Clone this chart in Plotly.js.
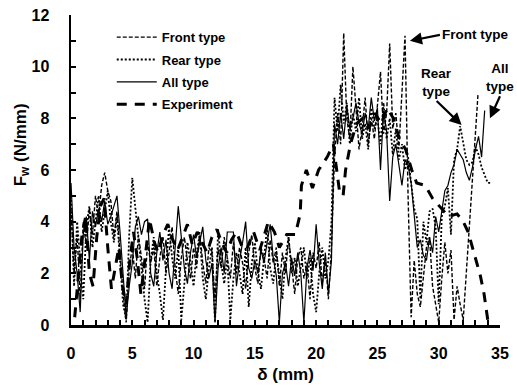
<!DOCTYPE html>
<html>
<head>
<meta charset="utf-8">
<script src="https://cdn.plot.ly/plotly-3.0.1.min.js"></script>
<style>html,body{margin:0;padding:0;background:#fff;}#chart{width:517px;height:392px;}</style>
</head>
<body>
<div id="chart"></div>
<script>
// displacement grid (mm)
const deltaGrid = [0,0.25,0.5,0.75,1,1.25,1.5,1.75,2,2.25,2.5,2.75,3,3.25,3.5,3.75,4,4.25,4.5,4.75,5,5.25,5.5,5.75,6,6.25,6.5,6.75,7,7.25,7.5,7.75,8,8.25,8.5,8.75,9,9.25,9.5,9.75,10,10.25,10.5,10.75,11,11.25,11.5,11.75,12,12.25,12.5,12.75,13,13.25,13.5,13.75,14,14.25,14.5,14.75,15,15.25,15.5,15.75,16,16.25,16.5,16.75,17,17.25,17.5,17.75,18,18.25,18.5,18.75,19,19.25,19.5,19.75,20,20.25,20.5,20.75,21,21.25,21.5,21.75,22,22.25,22.5,22.75,23,23.25,23.5,23.75,24,24.25,24.5,24.75,25,25.25,25.5,25.75,26,26.25,26.5,26.75,27,27.25,27.5,27.75,28,28.25,28.5,28.75,29,29.25,29.5,29.75,30,30.25,30.5,30.75,31,31.25,31.5,31.75,32,32.25,32.5,32.75,33,33.25,33.5,33.75,34,34.25];

// Front type (0 .. 32 mm on grid, then last peak)
const frontTail = [33.2];
const frontF = [4.5,2.0,3.5,1.0,4.0,3.0,4.5,3.5,5.0,4.2,
  5.4,5.9,5.2,4.8,3.4,4.4,2.8,1.2,0.1,2.2,
  3.0,1.8,3.5,2.6,1.4,3.2,2.4,3.0,1.5,2.6,
  3.4,2.0,2.8,3.8,2.2,1.2,2.6,3.4,2.5,1.8,
  3.0,2.2,3.6,2.4,1.6,3.0,2.8,1.0,3.0,2.2,
  3.4,2.6,1.8,3.2,2.0,3.0,2.4,1.4,2.8,3.5,
  2.2,1.6,3.0,2.6,1.8,3.3,2.4,3.0,1.5,2.8,
  2.0,3.4,2.2,1.2,2.6,3.0,1.8,2.4,1.0,2.8,
  2.2,3.2,1.6,2.6,1.0,3.0,6.5,8.2,7.0,11.3,
  8.0,7.2,10.0,8.4,6.8,7.6,8.8,7.0,8.0,7.2,
  8.4,9.8,7.4,8.2,10.9,7.6,8.2,6.8,9.0,11.2,
  5.0,0.3,2.5,1.2,0.7,1.8,3.0,3.4,1.5,0.8,
  0.1,1.8,3.2,2.0,2.9,0.2,1.5,0.8,0.2,
  8.9];

// Rear type (0 .. 34.25 mm)
const rearF = [5.0,1.5,4.0,2.5,1.0,3.8,4.6,3.0,4.0,5.0,
  3.6,4.5,5.2,4.0,3.2,4.2,2.6,0.8,0.2,3.5,
  5.7,4.5,3.2,2.0,1.0,0.1,2.5,3.4,2.0,1.2,
  0.2,2.2,3.8,2.6,1.8,3.0,0.2,1.6,3.2,2.4,
  1.5,2.8,3.5,1.8,1.0,2.2,3.0,0.1,3.7,2.4,
  1.6,2.6,0.2,1.8,2.8,2.0,1.2,3.0,0.7,2.4,
  3.2,2.0,1.4,2.6,3.8,2.2,1.6,2.8,2.0,1.0,
  2.6,3.4,2.0,2.6,1.5,2.2,3.0,1.8,2.6,1.2,
  0.5,2.0,3.0,1.8,2.5,4.0,8.8,7.5,9.3,7.8,
  8.6,7.0,8.2,7.5,8.8,7.2,7.8,6.8,8.4,7.6,
  8.0,7.0,8.6,7.2,8.0,6.6,7.6,6.4,7.0,6.0,
  6.5,5.5,4.5,4.1,1.0,4.0,3.2,4.4,4.5,3.8,
  0.8,4.2,4.6,5.3,3.5,6.4,6.8,7.7,7.0,6.4,
  6.2,6.3,6.9,6.6,6.1,5.8,5.5,5.5];

// All type (0 .. 33.75 mm)
const allF = [5.5,3.0,2.0,0.5,3.5,4.2,2.5,4.4,3.8,4.5,
  4.0,4.8,3.9,4.2,4.6,5.0,3.6,2.0,0.3,1.5,
  2.4,3.8,4.2,3.5,4.0,4.1,2.0,1.5,2.8,3.6,
  2.5,3.3,2.0,1.4,3.0,4.6,3.4,2.2,1.6,2.8,
  3.5,2.6,3.2,3.8,2.5,1.8,2.4,0.1,2.2,3.0,
  2.0,3.6,3.6,3.6,1.5,2.5,3.2,4.0,2.2,1.8,
  2.5,2.0,2.9,2.4,3.2,3.9,2.6,1.9,0.1,2.0,
  2.4,1.5,2.6,1.9,2.8,2.0,0.1,2.2,2.9,2.1,
  3.9,2.4,1.4,2.8,1.2,2.5,7.8,7.0,8.2,7.2,
  8.5,7.6,8.0,8.6,7.8,7.4,8.2,7.6,8.8,7.9,
  8.4,6.0,8.3,7.5,4.8,6.5,7.0,6.2,5.4,6.4,
  6.2,5.5,4.1,3.0,3.3,2.7,2.5,3.4,2.8,4.2,
  3.6,4.5,5.2,5.4,5.9,6.2,6.8,6.6,6.4,5.9,
  5.6,6.1,6.8,7.3,6.5,8.3];

// Experiment
const expDelta = [0.3,0.6,0.9,1.2,1.5,1.8,2.1,2.4,2.7,3.0,3.3,3.6,3.9,4.2,4.5,4.8,5.1,5.4,5.7,6.0,
  6.4,6.8,7.1,7.5,7.9,8.3,8.7,9.1,9.5,9.9,10.3,10.7,11.1,11.5,11.9,12.3,12.7,13.1,13.5,13.9,
  14.3,14.9,15.4,16.1,16.6,17.0,17.6,18.3,18.7,18.8,19.2,19.7,20.2,20.9,21.4,21.9,22.2,22.4,22.8,23.3,
  23.8,24.3,24.8,25.3,25.8,26.3,26.8,27.3,27.8,28.2,28.9,29.5,30.2,30.8,31.5,32.0,32.4,32.8,33.1,33.4,33.7,34.0];
const expF = [0.3,2.0,3.5,4.2,2.0,1.5,3.4,4.6,4.9,3.0,1.4,2.2,3.0,1.5,0.8,2.5,3.6,2.6,1.2,2.4,
  4.1,3.2,2.8,3.5,3.9,3.3,2.9,3.4,3.9,3.1,3.6,3.2,2.8,3.4,3.7,3.2,2.8,3.3,3.6,3.1,
  2.9,3.6,2.9,4.0,3.6,3.0,3.5,3.5,4.3,5.4,6.0,5.3,6.0,6.5,7.0,5.2,5.0,6.0,7.0,7.8,
  8.0,7.6,8.2,7.8,8.4,8.0,7.2,6.8,6.0,5.5,5.4,4.9,4.5,4.2,4.3,4.0,3.6,2.9,2.4,1.9,1.2,0.2];

const seriesNames = ['Front type','Rear type','All type','Experiment'];

// annotation targets (peaks pointed at)
const calloutText = ['Front type', 'Rear<br>type', 'All<br>type'];
const calloutDelta = [27.65, 31.87, 34.18];
const calloutF = [11.0, 7.74, 8.0];

const frontDelta = deltaGrid.slice(0, 129).concat(frontTail);
const rearDelta = deltaGrid.slice(0, rearF.length);
const allDelta = deltaGrid.slice(0, allF.length);

const FONT = 'Liberation Sans, Arial, sans-serif';

const traces = [
  {x: frontDelta, y: frontF, name: seriesNames[0], legendgroup: 'g1', mode: 'lines',
   line: {color: '#000', width: 1.4, dash: '4px,2px'}},
  {x: rearDelta, y: rearF, name: seriesNames[1], legendgroup: 'g2', mode: 'lines',
   line: {color: '#000', width: 1.8, dash: '2px,2px'}},
  {x: allDelta, y: allF, name: seriesNames[2], legendgroup: 'g3', mode: 'lines',
   line: {color: '#000', width: 1.2}},
  {x: expDelta, y: expF, name: seriesNames[3], legendgroup: 'g4', mode: 'lines',
   line: {color: '#000', width: 3, dash: '10px,8px'}}
];

const axisCommon = {
  showline: true, linecolor: '#000', linewidth: 2.5, mirror: false,
  showgrid: false, zeroline: false,
  ticks: 'inside', ticklen: 5, tickwidth: 2, tickcolor: '#000',
  tickfont: {family: FONT, size: 16, color: '#000', weight: 'bold'}
};

const calloutFont = {family: FONT, size: 13.5, color: '#000', weight: 'bold'};
const arrowStyle = {showarrow: true, arrowhead: 2, arrowsize: 1.1, arrowwidth: 2.2, arrowcolor: '#000'};

const layout = {
  width: 517, height: 392,
  margin: {l: 71, r: 17, t: 15, b: 67},
  paper_bgcolor: '#fff', plot_bgcolor: '#fff',
  showlegend: true,
  legend: {x: 0.095, y: 0.977, xanchor: 'left', yanchor: 'top', bgcolor: 'rgba(0,0,0,0)',
    borderwidth: 0, itemwidth: 40, tracegroupgap: 2.5,
    font: {family: FONT, size: 13, color: '#000', weight: 'bold'}},
  xaxis: Object.assign({}, axisCommon, {
    range: [0, 35], dtick: 5, tick0: 0, ticklabelstandoff: 12,
    minor: {dtick: 1, ticks: 'inside', ticklen: 5, tickwidth: 2, tickcolor: '#000'},
    title: {text: 'δ (mm)', standoff: 8, font: {family: FONT, size: 17, color: '#000', weight: 'bold'}}
  }),
  yaxis: Object.assign({}, axisCommon, {
    range: [0, 12], dtick: 2, tick0: 0, ticklabelstandoff: 16,
    minor: {dtick: 1, ticks: 'inside', ticklen: 5, tickwidth: 2, tickcolor: '#000'}
  }),
  annotations: [
    {xref: 'paper', yref: 'paper', x: -0.114, y: 0.58, xanchor: 'center', yanchor: 'middle',
     text: 'F<sub>w</sub> (N/mm)', textangle: -90,
     showarrow: false, font: {family: FONT, size: 17, color: '#000', weight: 'bold'}},
    Object.assign({xref: 'x', yref: 'y', x: calloutDelta[0], y: calloutF[0], text: calloutText[0],
     ax: 30, ay: -6, xanchor: 'left', yanchor: 'middle', font: calloutFont}, arrowStyle),
    Object.assign({xref: 'x', yref: 'y', x: calloutDelta[1], y: calloutF[1], text: calloutText[1],
     ax: -25, ay: -24, xanchor: 'center', yanchor: 'bottom', font: calloutFont}, arrowStyle),
    Object.assign({xref: 'x', yref: 'y', x: calloutDelta[2], y: calloutF[2], text: calloutText[2],
     ax: 10, ay: -22, xanchor: 'center', yanchor: 'bottom', font: calloutFont}, arrowStyle)
  ]
};

Plotly.newPlot('chart', traces, layout, {staticPlot: true, displayModeBar: false});
</script>
</body>
</html>
